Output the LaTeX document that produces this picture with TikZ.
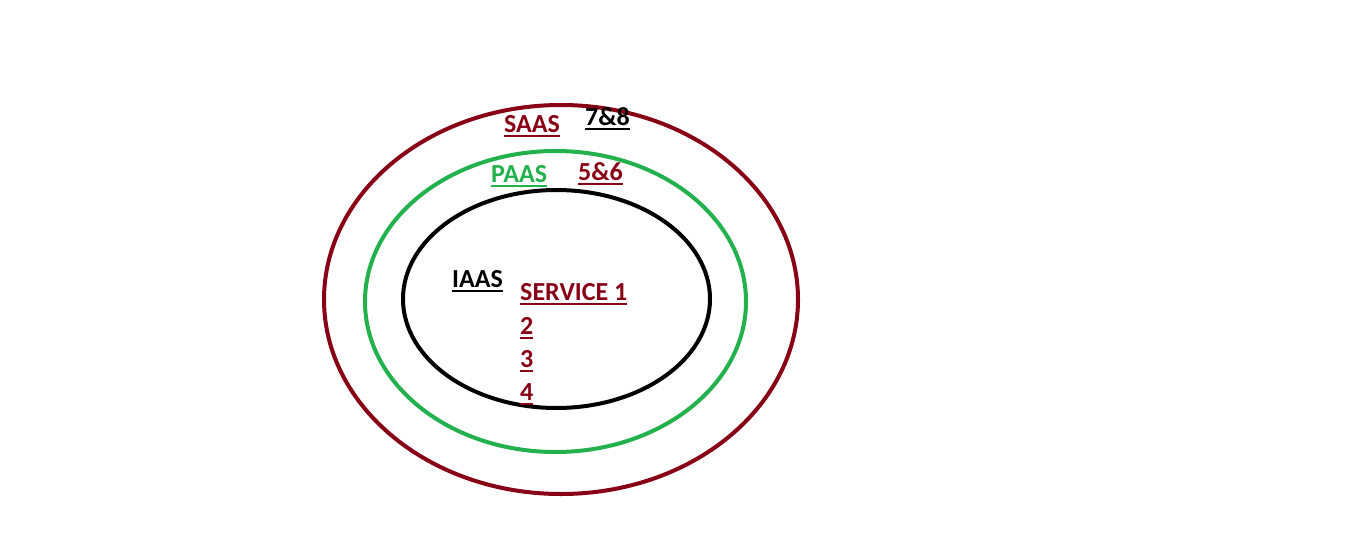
\documentclass[tikz,border=0pt]{standalone}
\usepackage{fontspec}
\setmainfont{Carlito}
\definecolor{saasred}{HTML}{880015}
\definecolor{paasgreen}{HTML}{22B14C}
\newcommand\myul[1]{\setbox0\hbox{#1}\rlap{\rule[-4.5pt]{\wd0}{2pt}}\box0}
\tikzset{
  ring/.style={line width=4pt},
  lbl/.style={anchor=base west, inner sep=0pt, font=\fontsize{26}{30}\selectfont\bfseries}
}
\begin{document}
\begin{tikzpicture}[x=1pt,y=-1pt]
\useasboundingbox (0,0) rectangle (1360,546);
\fill[white] (0,0) rectangle (1360,546);
\draw[ring, saasred] (561,299.5) ellipse [x radius=237, y radius=194.5];
\draw[ring, paasgreen] (555.5,301.5) ellipse [x radius=190.5, y radius=150.5];
\draw[ring, black] (556.5,299) ellipse [x radius=153.5, y radius=109];
\node[lbl, text=saasred] (saas) at (504,132) {\myul{SAAS}};
\node[lbl, text=black] (s78) at (585,125) {\myul{7\&8}};
\node[lbl, text=paasgreen] (paas) at (491,182) {\myul{PAAS}};
\node[lbl, text=saasred] (s56) at (578,180) {\myul{5\&6}};
\node[lbl, text=black] (iaas) at (452,287) {\myul{IAAS}};
\node[lbl, text=saasred] (s1) at (520,300) {\myul{SERVICE 1}};
\node[lbl, text=saasred] (s2) at (520,334) {\myul{2}};
\node[lbl, text=saasred] (s3) at (520,367) {\myul{3}};
\node[lbl, text=saasred] (s4) at (520,400) {\myul{4}};
\end{tikzpicture}
\end{document}
